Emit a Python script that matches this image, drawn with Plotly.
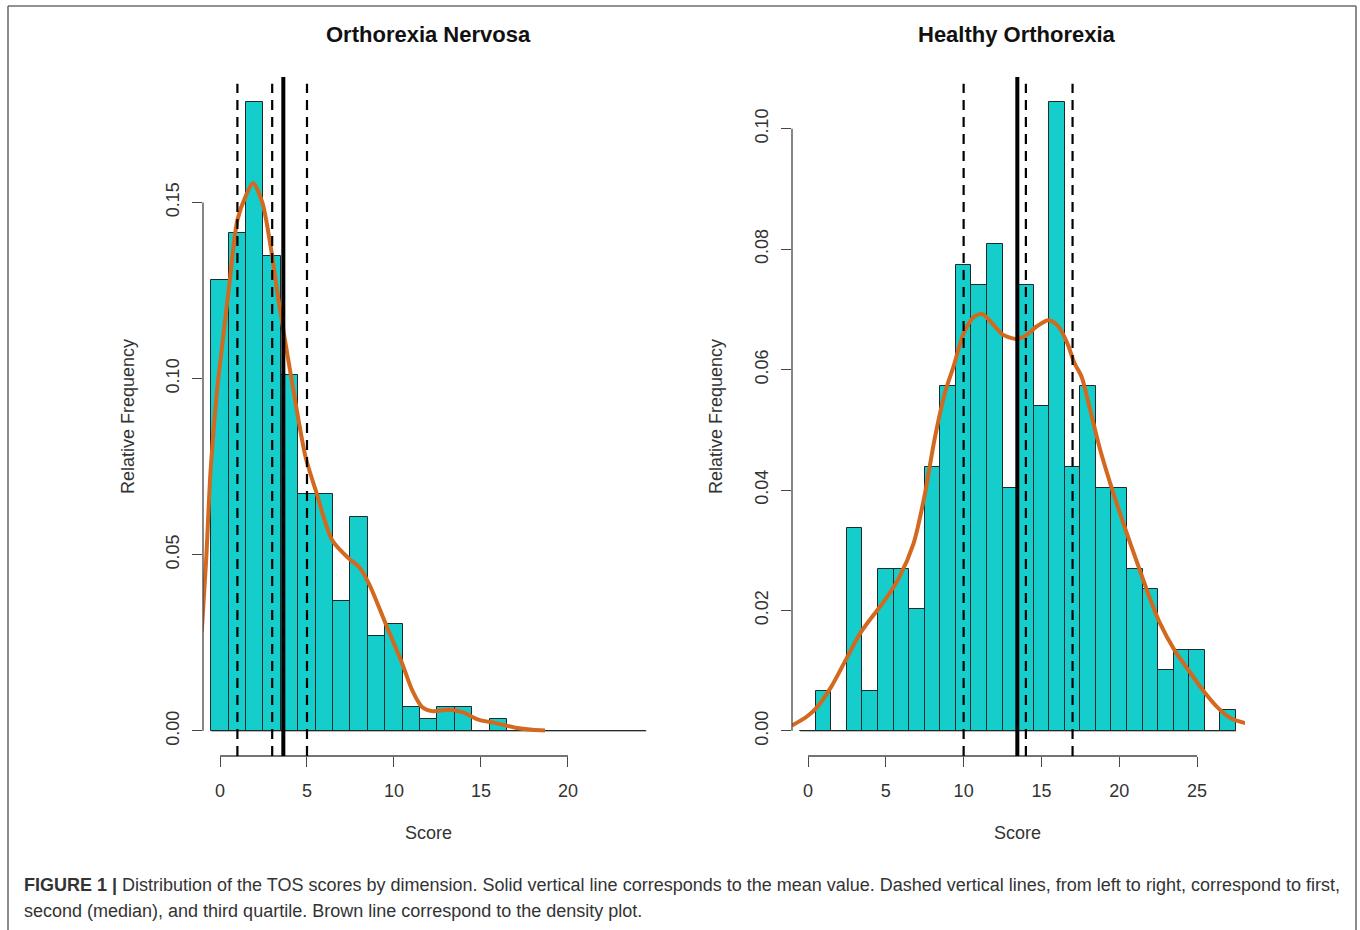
import plotly.graph_objects as go

# ---------------- data ----------------
on_bins = list(range(0, 25))
on_relfreq = [0.1279, 0.1414, 0.1785, 0.1347, 0.1010, 0.0673, 0.0673, 0.0370, 0.0606, 0.0269,
              0.0303, 0.0067, 0.0034, 0.0067, 0.0067, 0.0, 0.0034, 0.0, 0.0, 0.0,
              0.0, 0.0, 0.0, 0.0, 0.0]
on_dens_x = [-1.05, -0.79, -0.54, -0.15, 0.0, 0.52, 1.0, 1.47, 1.9, 2.43, 2.91, 3.39, 3.97, 4.35,
             4.92, 5.5, 6.46, 7.41, 7.99, 8.56, 9.52, 10.48, 11.05, 11.63, 12.2, 13.16, 13.93,
             14.89, 15.84, 16.99, 17.95, 18.68]
on_dens_y = [0.028, 0.049, 0.074, 0.0976, 0.104, 0.126, 0.145, 0.1517, 0.1555, 0.150, 0.1375,
             0.1214, 0.104, 0.0929, 0.0777, 0.0683, 0.054, 0.0489, 0.0465, 0.0418, 0.0304, 0.019,
             0.0115, 0.0067, 0.0056, 0.006, 0.0053, 0.0031, 0.0022, 0.0009, 0.0003, 0.0001]
on_quartiles = [1, 3, 5]
on_mean = 3.64
on_xticks = [0, 5, 10, 15, 20]
on_yticks = [0.0, 0.05, 0.10, 0.15]
on_ytick_labels = ["0.00", "0.05", "0.10", "0.15"]

ho_bins = list(range(0, 28))
ho_relfreq = [0.0, 0.0067, 0.0, 0.0337, 0.0067, 0.0269, 0.0269, 0.0202, 0.0438, 0.0572,
              0.0774, 0.0741, 0.0808, 0.0404, 0.0741, 0.0539, 0.1044, 0.0438, 0.0572, 0.0404,
              0.0404, 0.0269, 0.0236, 0.0101, 0.0135, 0.0135, 0.0, 0.0034]
ho_dens_x = [-1.03, -0.11, 0.57, 1.49, 2.41, 3.33, 4.02, 4.94, 5.86, 6.78, 7.47, 8.16, 8.85, 9.35,
             10.0, 10.68, 11.21, 11.83, 12.52, 13.33, 13.9, 14.71, 15.46, 16.08, 16.66, 17.12,
             17.58, 18.04, 18.73, 19.42, 20.34, 21.25, 21.94, 22.63, 23.55, 24.47, 25.39, 26.31,
             27.23, 28.1]
ho_dens_y = [0.0009, 0.0023, 0.0039, 0.0073, 0.0117, 0.0161, 0.0186, 0.0217, 0.0255, 0.0311,
             0.0388, 0.0488, 0.0566, 0.0605, 0.066, 0.0688, 0.0692, 0.0677, 0.0658, 0.0651,
             0.0655, 0.0672, 0.0682, 0.0672, 0.0644, 0.0611, 0.0588, 0.0543, 0.0471, 0.0411,
             0.0339, 0.0272, 0.0222, 0.0178, 0.0134, 0.01, 0.0067, 0.0039, 0.002, 0.0013]
ho_quartiles = [10, 14, 17]
ho_mean = 13.45
ho_xticks = [0, 5, 10, 15, 20, 25]
ho_yticks = [0.0, 0.02, 0.04, 0.06, 0.08, 0.10]
ho_ytick_labels = ["0.00", "0.02", "0.04", "0.06", "0.08", "0.10"]

titles = ["Orthorexia Nervosa", "Healthy Orthorexia"]
x_title = "Score"
y_title = "Relative Frequency"
caption_1 = ("<b>FIGURE 1 |</b> Distribution of the TOS scores by dimension. Solid vertical line "
             "corresponds to the mean value. Dashed vertical lines, from left to right, correspond to first,")
caption_2 = "second (median), and third quartile. Brown line correspond to the density plot."

# ---------------- styling / layout ----------------
W, H = 1360, 930
FONT = "Liberation Sans, Arial, sans-serif"
BAR_COLOR = "#15CDCB"
DENS_COLOR = "#D2691E"
AXIS_COLOR = "#4a4444"
TEXT_COLOR = "#333333"

def px_x(p):
    return p / W

def px_y(p):
    return 1 - p / H

ydom = [px_y(756), px_y(77)]
panels = [
    dict(bins=on_bins, rel=on_relfreq, dx=on_dens_x, dy=on_dens_y, q=on_quartiles, m=on_mean,
         xt=on_xticks, yt=on_yticks, ytl=on_ytick_labels,
         xrange=[-0.977, 24.6], yrange=[-0.00714, 0.1856],
         xdom=[px_x(203), px_x(648)], title_x=428, ylab_x=128),
    dict(bins=ho_bins, rel=ho_relfreq, dx=ho_dens_x, dy=ho_dens_y, q=ho_quartiles, m=ho_mean,
         xt=ho_xticks, yt=ho_yticks, ytl=ho_ytick_labels,
         xrange=[-1.028, 28.08], yrange=[-0.00418, 0.1086],
         xdom=[px_x(792), px_x(1245)], title_x=1017, ylab_x=716),
]

fig = go.Figure()
shapes = []
annotations = []

for i, p in enumerate(panels):
    n = "" if i == 0 else str(i + 1)
    xa, ya = "x" + n, "y" + n
    fig.add_trace(go.Bar(x=p["bins"], y=p["rel"], width=1, xaxis=xa, yaxis=ya,
                         marker=dict(color=BAR_COLOR, line=dict(color="#1c2a2a", width=1)),
                         showlegend=False, hoverinfo="skip"))
    fig.add_trace(go.Scatter(x=p["dx"], y=p["dy"], mode="lines", xaxis=xa, yaxis=ya,
                             line=dict(color=DENS_COLOR, width=4, shape="spline", smoothing=0.8),
                             showlegend=False, hoverinfo="skip"))
    axkw = dict(showgrid=False, zeroline=False, showline=False, ticks="outside", ticklen=10,
                tickwidth=1.2, tickcolor=AXIS_COLOR,
                tickfont=dict(family=FONT, size=18, color=TEXT_COLOR))
    fig.update_layout(**{
        "xaxis" + n: dict(domain=p["xdom"], range=p["xrange"], tickvals=p["xt"],
                          anchor=ya, ticklabelstandoff=8, **axkw),
        "yaxis" + n: dict(domain=ydom, range=p["yrange"], tickvals=p["yt"], ticktext=p["ytl"],
                          tickangle=-90, anchor=xa, ticklabelstandoff=6, **axkw),
    })
    # axis lines spanning first..last tick (R style)
    shapes.append(dict(type="line", xref=xa, yref=ya + " domain", x0=p["xt"][0], x1=p["xt"][-1],
                       y0=0, y1=0, line=dict(color=AXIS_COLOR, width=1.3)))
    shapes.append(dict(type="line", xref=xa + " domain", yref=ya, x0=0, x1=0,
                       y0=p["yt"][0], y1=p["yt"][-1], line=dict(color=AXIS_COLOR, width=1.3)))
    # zero-height bar outline across all bins
    shapes.append(dict(type="line", xref=xa, yref=ya, x0=p["bins"][0] - 0.5, x1=p["bins"][-1] + 0.5,
                       y0=0, y1=0, line=dict(color="#333333", width=1), layer="below"))
    for q in p["q"]:
        shapes.append(dict(type="line", xref=xa, yref=ya + " domain", x0=q, x1=q, y0=0, y1=0.99,
                           line=dict(color="black", width=2.2, dash="10px,7px")))
    shapes.append(dict(type="line", xref=xa, yref=ya + " domain", x0=p["m"], x1=p["m"], y0=0, y1=1,
                       line=dict(color="black", width=4)))
    annotations.append(dict(text="<b>" + titles[i] + "</b>", x=px_x(p["title_x"]), y=px_y(34),
                            xref="paper", yref="paper", showarrow=False, xanchor="center",
                            yanchor="middle", font=dict(family=FONT, size=22, color="#111")))
    annotations.append(dict(text=x_title, x=px_x(p["title_x"]), y=px_y(833),
                            xref="paper", yref="paper", showarrow=False, xanchor="center",
                            yanchor="middle", font=dict(family=FONT, size=18, color=TEXT_COLOR)))
    annotations.append(dict(text=y_title, x=px_x(p["ylab_x"]), y=px_y(417), textangle=-90,
                            xref="paper", yref="paper", showarrow=False, xanchor="center",
                            yanchor="middle", font=dict(family=FONT, size=18, color=TEXT_COLOR)))

annotations.append(dict(text=caption_1, x=px_x(22), y=px_y(885), xref="paper", yref="paper",
                        showarrow=False, xanchor="left", yanchor="middle",
                        font=dict(family=FONT, size=18, color="#333")))
annotations.append(dict(text=caption_2, x=px_x(22), y=px_y(911), xref="paper", yref="paper",
                        showarrow=False, xanchor="left", yanchor="middle",
                        font=dict(family=FONT, size=18, color="#333")))

# outer frame
for (x0, y0, x1, y1) in [(8, 6, 1356, 6), (8, 6, 8, 940), (1356, 6, 1356, 940)]:
    shapes.append(dict(type="line", xref="paper", yref="paper", x0=px_x(x0), x1=px_x(x1),
                       y0=px_y(y0), y1=px_y(y1), line=dict(color="#6e6e6e", width=1.6)))

fig.update_layout(width=W, height=H, margin=dict(l=0, r=0, t=0, b=0),
                  paper_bgcolor="white", plot_bgcolor="white", bargap=0,
                  shapes=shapes, annotations=annotations, showlegend=False)

fig.write_html("out.html", config={"displayModeBar": False},
               post_script="document.body.style.margin='0';document.body.style.overflow='hidden';")
